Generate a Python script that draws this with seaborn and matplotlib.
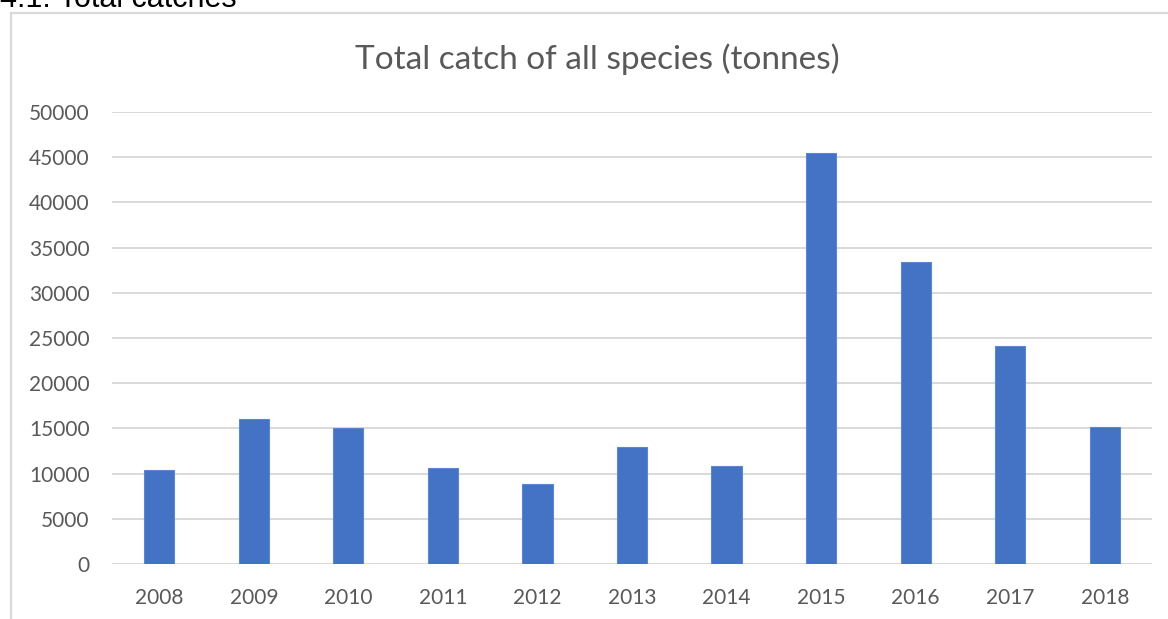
import numpy as np
import pandas as pd
import matplotlib
matplotlib.use("Agg")
import matplotlib.pyplot as plt
import seaborn as sns
from matplotlib.patches import Rectangle

# datos
anios = ["2008", "2009", "2010", "2011", "2012", "2013", "2014", "2015", "2016", "2017", "2018"]
capturas = [10350, 16000, 15000, 10650, 8800, 12900, 10800, 45450, 33450, 24100, 15150]
ticks_y = [0, 5000, 10000, 15000, 20000, 25000, 30000, 35000, 40000, 45000, 50000]

df = pd.DataFrame({"Year": anios, "Catch": capturas})

sns.set_theme(style="white")
plt.rcParams['font.family'] = ['Lato', 'DejaVu Sans']

fig = plt.figure(figsize=(11.68, 6.19), dpi=100)
W, H = 1168, 619
ax = fig.add_axes([112 / W, 1 - 564 / H, (1152 - 112) / W, (564 - 112) / H])

sns.barplot(data=df, x="Year", y="Catch", color="#4472C4", width=0.32,
            saturation=1, edgecolor="#5B86D0", linewidth=0.8, ax=ax, zorder=3)

ax.set_ylim(0, 50000)
ax.set_xlim(-0.5, len(anios) - 0.5)
ax.set_yticks(ticks_y)
ax.set_yticklabels([str(t) for t in ticks_y])
ax.yaxis.grid(True, color="#d9d9d9", linewidth=1.4, zorder=0)
ax.set_axisbelow(True)
for s in ax.spines.values():
    s.set_visible(False)
ax.axhline(0, color="#d9d9d9", linewidth=1.4, zorder=1)
ax.set_xlabel("")
ax.set_ylabel("")
ax.tick_params(axis="both", length=0, labelsize=15, colors="#595959")
ax.tick_params(axis="y", pad=16)
ax.tick_params(axis="x", pad=17)

# titulo del grafico
fig.text(597 / W, 1 - 59 / H, "Total catch of all species (tonnes)", ha="center", va="center",
         fontsize=24, color="#595959")

# borde del area del grafico y encabezado cortado
fig.patches.append(Rectangle((11 / W, -0.1), 1.2, 1 - 13 / H + 0.1, transform=fig.transFigure,
                             fill=False, edgecolor="#d9d9d9", linewidth=1.6))
fig.text(0, 1 - 7 / H, "4.1. Total catches", ha="left", va="baseline",
         fontsize=22, color="black", family=["Liberation Sans", "DejaVu Sans"])

fig.savefig("out.png", dpi=100)
